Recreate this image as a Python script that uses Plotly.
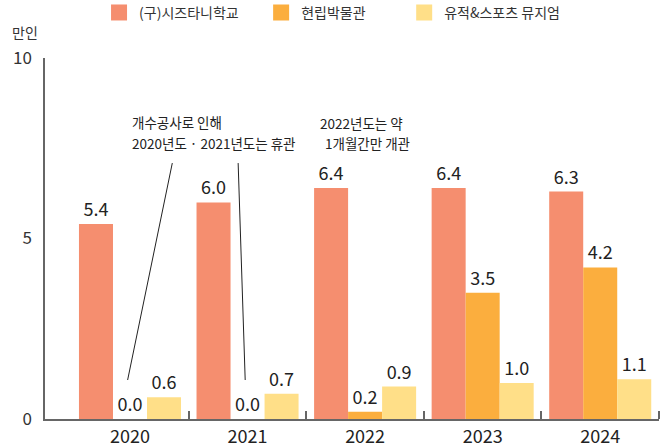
import plotly.graph_objects as go

years = ["2020", "2021", "2022", "2023", "2024"]
series_names = ["(구)시즈타니학교", "현립박물관", "유적&스포츠 뮤지엄"]
school = [5.4, 6.0, 6.4, 6.4, 6.3]
museum = [0.0, 0.0, 0.2, 3.5, 4.2]
sports = [0.6, 0.7, 0.9, 1.0, 1.1]
colors = ["#F58E6F", "#FBAE3E", "#FFDF88"]
y_ticks = [0, 5, 10]

FONT = "Noto Sans CJK KR"
xpos = list(range(len(years)))

fig = go.Figure()
legend_ids = ["legend", "legend2", "legend3"]
for vals, name, col, lg in zip([school, museum, sports], series_names, colors, legend_ids):
    fig.add_trace(go.Bar(
        x=xpos, y=vals, name=name, marker_color=col, marker_line_width=0,
        text=[f"{v:.1f}" for v in vals], textposition="outside",
        textfont=dict(size=18, color="#222", family=FONT),
        cliponaxis=False, showlegend=False,
    ))
    fig.add_trace(go.Scatter(
        x=[None], y=[None], mode="markers", name=name,
        marker=dict(symbol="square", size=16, color=col),
        showlegend=True, legend=lg,
    ))

leg_common = dict(orientation="h", yanchor="middle", y=1.125, xanchor="left",
                  font=dict(size=14, color="#333", family=FONT),
                  bgcolor="rgba(0,0,0,0)", borderwidth=0, itemwidth=30)

fig.update_layout(
    width=670, height=448,
    margin=dict(l=45, r=11, t=58, b=29, autoexpand=False),
    plot_bgcolor="white", paper_bgcolor="white",
    barmode="group", bargap=0.132, bargroupgap=0,
    font=dict(family=FONT, color="#333"),
    legend=dict(x=0.088, **leg_common),
    legend2=dict(x=0.352, **leg_common),
    legend3=dict(x=0.585, **leg_common),
    xaxis=dict(
        range=[-0.723, 4.5], tickmode="array", tickvals=xpos, ticktext=years,
        showline=True, linecolor="#666", linewidth=2, ticks="",
        tickfont=dict(size=18, color="#222", family=FONT),
        showgrid=False, zeroline=False,
        minor=dict(tickmode="array", tickvals=[0.5, 1.5, 2.5, 3.5, 4.5],
                   ticks="inside", ticklen=8, tickcolor="#666", tickwidth=1.5,
                   showgrid=False),
    ),
    yaxis=dict(
        range=[0, 10], tickmode="array", tickvals=y_ticks,
        showline=True, linecolor="#666", linewidth=1.5, ticks="",
        tickfont=dict(size=17, color="#333", family=FONT),
        showgrid=False, zeroline=False, ticklabelstandoff=8,
    ),
)

fig.add_annotation(
    xref="paper", yref="paper", x=-0.057, y=1.072, text="만인", showarrow=False,
    xanchor="left", yanchor="middle", font=dict(size=14, color="#333", family=FONT),
)

note_font = dict(size=13.5, color="#222", family=FONT)
notes = [
    ("개수공사로 인해", 0.0, 8.23),
    ("2020년도 · 2021년도는 휴관", 0.0, 7.65),
    ("2022년도는 약", 1.6, 8.2),
    ("1개월간만 개관", 1.64, 7.65),
]
for txt, nx, ny in notes:
    fig.add_annotation(xref="x", yref="y", x=nx, y=ny, text=txt, showarrow=False,
                       xanchor="left", yanchor="middle", font=note_font)

fig.add_shape(type="line", xref="x", yref="y", x0=-0.02, y0=1.08, x1=0.36, y1=7.09,
              line=dict(color="#222", width=1))
fig.add_shape(type="line", xref="x", yref="y", x0=0.98, y0=1.08, x1=0.92, y1=7.09,
              line=dict(color="#222", width=1))

fig.write_html("out.html", config={"displayModeBar": False},
               post_script="document.body.style.margin='0';")
